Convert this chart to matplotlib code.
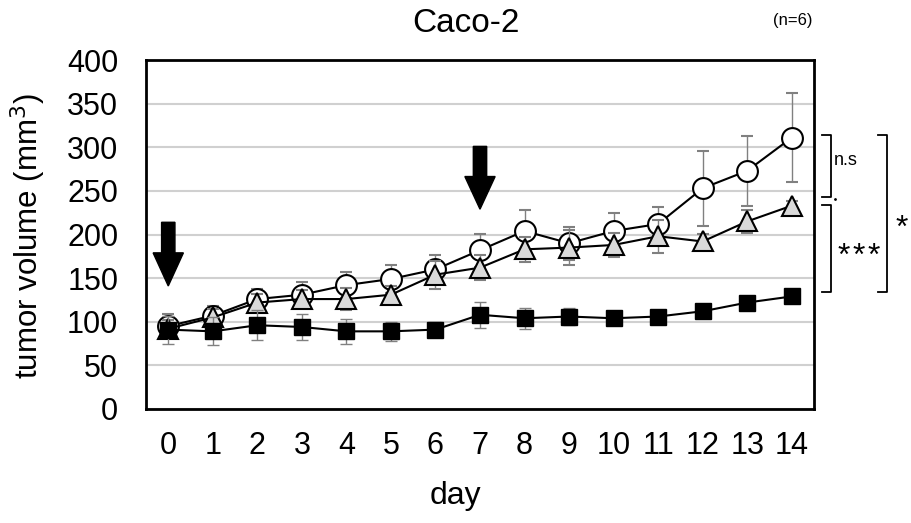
import numpy as np
import matplotlib
matplotlib.use("Agg")
import matplotlib.pyplot as plt
from matplotlib.patches import Polygon
from matplotlib.lines import Line2D

plt.rcParams['font.family'] = ['Liberation Sans', 'DejaVu Sans']

days = list(range(15))
day_labels = [str(d) for d in days]

# control (open circles)
circle_mean = [95, 107, 126, 131, 142, 149, 160, 182, 204, 190, 204, 212, 253, 273, 311]
circle_err = [14, 11, 11, 14, 15, 16, 17, 19, 24, 19, 21, 20, 43, 40, 51]
# gray triangles
tri_mean = [92, 105, 122, 126, 126, 131, 154, 162, 183, 185, 188, 198, 192, 215, 233]
tri_err = [10, 10, 10, 10, 13, 10, 16, 14, 14, 20, 14, 19, 9, 13, 5]
# black squares
sq_mean = [91, 89, 96, 94, 89, 89, 91, 108, 104, 106, 104, 106, 112, 122, 129]
sq_err = [16, 16, 17, 15, 14, 11, 9, 15, 12, 10, 5, 5, 5, 5, 5]

arrow_days = [0, 7]
arrow_top = [214, 301]
arrow_tip = [141, 229]

y_ticks = [0, 50, 100, 150, 200, 250, 300, 350, 400]

fig = plt.figure(figsize=(9.11, 5.23), dpi=100)
ax = fig.add_axes([146 / 911, 1 - 409 / 523, (814 - 146) / 911, (409 - 60) / 523])

ax.set_xlim(-0.5, 14.5)
ax.set_ylim(0, 400)
ax.set_yticks(y_ticks)
ax.set_xticks(days)
ax.set_xticklabels(day_labels)
ax.tick_params(length=0, labelsize=22)
ax.tick_params(axis='y', pad=20)
ax.tick_params(axis='x', pad=16)
ax.grid(axis='y', color='#d0d0d0', linewidth=1.5)
ax.set_axisbelow(True)
for s in ax.spines.values():
    s.set_linewidth(2)
    s.set_color('black')

ekw = dict(ecolor='#808080', elinewidth=1, capsize=4, capthick=1)
ax.errorbar(days, circle_mean, yerr=circle_err, fmt='-o', color='black', lw=1.5,
            mfc='white', mec='black', mew=1.5, ms=15, zorder=3, **ekw)
ax.errorbar(days, tri_mean, yerr=tri_err, fmt='-^', color='black', lw=1.5,
            mfc='#d9d9d9', mec='black', mew=1.5, ms=15, zorder=4, **ekw)
ax.errorbar(days, sq_mean, yerr=sq_err, fmt='-s', color='black', lw=1.5,
            mfc='black', mec='black', ms=12, zorder=5, **ekw)

# treatment arrows
sw, hw = 0.15, 0.34
for d, top, tip in zip(arrow_days, arrow_top, arrow_tip):
    base = tip + 0.52 * (top - tip)
    verts = [(d - sw, top), (d + sw, top), (d + sw, base), (d + hw, base),
             (d, tip), (d - hw, base), (d - sw, base)]
    ax.add_patch(Polygon(verts, closed=True, color='black', zorder=6))

# significance brackets
def bracket(x_in, x_out, y0, y1):
    kw = dict(color='black', lw=1.3, clip_on=False)
    ax.add_line(Line2D([x_in, x_out, x_out, x_in], [y0, y0, y1, y1], **kw))

bracket(14.67, 14.89, 314, 243)
bracket(14.67, 14.89, 234, 134)
bracket(15.94, 16.14, 314, 134)
ax.text(14.95, 285, 'n.s', fontsize=13, va='center', ha='left', clip_on=False)
for xs in [15.17, 15.5, 15.83]:
    ax.text(xs, 174, '*', fontsize=23, va='center', ha='center', clip_on=False)
ax.text(16.46, 206, '*', fontsize=23, va='center', ha='center', clip_on=False)
ax.plot([14.97], [241], marker='.', color='black', ms=2, clip_on=False)

fig.text(28 / 911, 1 - 236 / 523, 'tumor volume (mm$^3$)', fontsize=22.5,
         rotation=90, ha='center', va='center')
fig.text(455 / 911, 1 - 496 / 523, 'day', fontsize=23, ha='center', va='center')
fig.text(466 / 911, 1 - 24 / 523, 'Caco-2', fontsize=24, ha='center', va='center')
fig.text(793 / 911, 1 - 21 / 523, '(n=6)', fontsize=12, ha='center', va='center')

fig.savefig('out.png', dpi=100)
